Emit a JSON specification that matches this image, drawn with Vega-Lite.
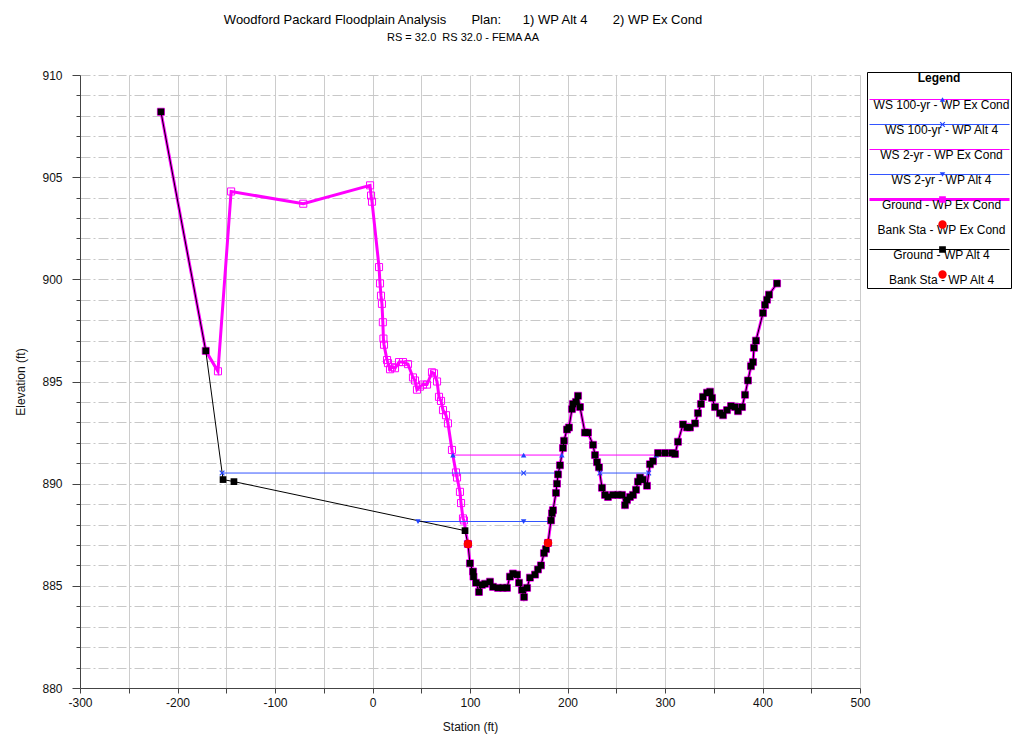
{
"$schema": "https://vega.github.io/schema/vega-lite/v6.json",
"width": 780, "height": 613,
"autosize": {"type": "none"},
"padding": {"left": 80, "top": 75, "right": 156, "bottom": 48},
"background": "white",
"config": {"font": "Liberation Sans", "view": {"stroke": null}},
"title": {"text": "Woodford Packard Floodplain Analysis\u00a0\u00a0\u00a0\u00a0\u00a0\u00a0\u00a0Plan:\u00a0\u00a0\u00a0\u00a0\u00a0\u00a01) WP Alt 4\u00a0\u00a0\u00a0\u00a0\u00a0\u00a0\u00a02) WP Ex Cond", "subtitle": "RS = 32.0\u00a0\u00a0RS 32.0 - FEMA AA", "anchor": "middle", "frame": "group", "dx": -7, "fontSize": 13, "fontWeight": "normal", "font": "Liberation Sans", "color": "#000", "subtitleFontSize": 11, "subtitleColor": "#000", "subtitleFont": "Liberation Sans", "offset": 26, "subtitlePadding": 5},
"data": {"values": [
{"s":"Ground - WP Ex Cond","x":-217,"y":908.2},{"s":"Ground - WP Ex Cond","x":-171,"y":896.5},{"s":"Ground - WP Ex Cond","x":-158.5,"y":895.5},{"s":"Ground - WP Ex Cond","x":-145,"y":904.3},{"s":"Ground - WP Ex Cond","x":-71,"y":903.7},{"s":"Ground - WP Ex Cond","x":-2.5,"y":904.6},{"s":"Ground - WP Ex Cond","x":-1.5,"y":904.1},{"s":"Ground - WP Ex Cond","x":-0.5,"y":903.8},{"s":"Ground - WP Ex Cond","x":6.7,"y":900.6},{"s":"Ground - WP Ex Cond","x":7.7,"y":899.8},{"s":"Ground - WP Ex Cond","x":8.7,"y":899.2},{"s":"Ground - WP Ex Cond","x":9.7,"y":898.8},{"s":"Ground - WP Ex Cond","x":10.6,"y":897.9},{"s":"Ground - WP Ex Cond","x":11.2,"y":897.1},{"s":"Ground - WP Ex Cond","x":11.8,"y":896.8},{"s":"Ground - WP Ex Cond","x":14.9,"y":896.05},{"s":"Ground - WP Ex Cond","x":15.9,"y":895.9},{"s":"Ground - WP Ex Cond","x":18,"y":895.6},{"s":"Ground - WP Ex Cond","x":20,"y":895.7},{"s":"Ground - WP Ex Cond","x":23.1,"y":895.65},{"s":"Ground - WP Ex Cond","x":27.2,"y":895.95},{"s":"Ground - WP Ex Cond","x":31.3,"y":895.95},{"s":"Ground - WP Ex Cond","x":36.4,"y":895.85},{"s":"Ground - WP Ex Cond","x":41.5,"y":895.2},{"s":"Ground - WP Ex Cond","x":43.6,"y":895.05},{"s":"Ground - WP Ex Cond","x":45.6,"y":894.6},{"s":"Ground - WP Ex Cond","x":48.7,"y":894.75},{"s":"Ground - WP Ex Cond","x":51.8,"y":894.85},{"s":"Ground - WP Ex Cond","x":55.9,"y":894.85},{"s":"Ground - WP Ex Cond","x":61,"y":895.45},{"s":"Ground - WP Ex Cond","x":63.1,"y":895.4},{"s":"Ground - WP Ex Cond","x":66.2,"y":895},{"s":"Ground - WP Ex Cond","x":68.2,"y":894.25},{"s":"Ground - WP Ex Cond","x":70.3,"y":894.05},{"s":"Ground - WP Ex Cond","x":72.3,"y":893.6},{"s":"Ground - WP Ex Cond","x":75.4,"y":893.35},{"s":"Ground - WP Ex Cond","x":77.4,"y":892.95},{"s":"Ground - WP Ex Cond","x":81.5,"y":891.65},{"s":"Ground - WP Ex Cond","x":85.6,"y":890.55},{"s":"Ground - WP Ex Cond","x":86.7,"y":890.3},{"s":"Ground - WP Ex Cond","x":89.7,"y":889.6},{"s":"Ground - WP Ex Cond","x":90.8,"y":889.05},{"s":"Ground - WP Ex Cond","x":92.8,"y":888.3},{"s":"Ground - WP Ex Cond","x":93.8,"y":888.2},
{"s":"Ground - WP Ex Cond","x":97.9,"y":887.05},{"s":"Ground - WP Ex Cond","x":100,"y":886.1},{"s":"Ground - WP Ex Cond","x":103.1,"y":885.7},{"s":"Ground - WP Ex Cond","x":103.6,"y":885.45},{"s":"Ground - WP Ex Cond","x":106.2,"y":885.15},{"s":"Ground - WP Ex Cond","x":109.2,"y":884.7},{"s":"Ground - WP Ex Cond","x":112.3,"y":885.05},{"s":"Ground - WP Ex Cond","x":115.4,"y":885.1},{"s":"Ground - WP Ex Cond","x":120.5,"y":885.2},{"s":"Ground - WP Ex Cond","x":123.6,"y":884.95},{"s":"Ground - WP Ex Cond","x":128.7,"y":884.9},{"s":"Ground - WP Ex Cond","x":133.8,"y":884.9},{"s":"Ground - WP Ex Cond","x":137.9,"y":884.9},{"s":"Ground - WP Ex Cond","x":141,"y":885.45},{"s":"Ground - WP Ex Cond","x":144.1,"y":885.6},{"s":"Ground - WP Ex Cond","x":148.2,"y":885.55},{"s":"Ground - WP Ex Cond","x":150.3,"y":885.15},{"s":"Ground - WP Ex Cond","x":153.3,"y":884.8},{"s":"Ground - WP Ex Cond","x":155.4,"y":884.45},{"s":"Ground - WP Ex Cond","x":158.5,"y":884.9},{"s":"Ground - WP Ex Cond","x":161.5,"y":885.4},{"s":"Ground - WP Ex Cond","x":166.7,"y":885.55},{"s":"Ground - WP Ex Cond","x":169.7,"y":885.8},{"s":"Ground - WP Ex Cond","x":172.8,"y":886},{"s":"Ground - WP Ex Cond","x":175.9,"y":886.6},{"s":"Ground - WP Ex Cond","x":177.9,"y":886.8},{"s":"Ground - WP Ex Cond","x":180,"y":887.1},{"s":"Ground - WP Ex Cond","x":183.1,"y":888.2},{"s":"Ground - WP Ex Cond","x":184.1,"y":888.55},{"s":"Ground - WP Ex Cond","x":185.1,"y":888.7},{"s":"Ground - WP Ex Cond","x":188.2,"y":889.55},{"s":"Ground - WP Ex Cond","x":189.2,"y":890},{"s":"Ground - WP Ex Cond","x":190.3,"y":890.45},{"s":"Ground - WP Ex Cond","x":192.3,"y":890.9},{"s":"Ground - WP Ex Cond","x":195.4,"y":891.75},{"s":"Ground - WP Ex Cond","x":196.4,"y":892.1},{"s":"Ground - WP Ex Cond","x":199.5,"y":892.65},{"s":"Ground - WP Ex Cond","x":201.5,"y":892.75},{"s":"Ground - WP Ex Cond","x":204.6,"y":893.65},{"s":"Ground - WP Ex Cond","x":205.6,"y":893.9},{"s":"Ground - WP Ex Cond","x":208.7,"y":894},{"s":"Ground - WP Ex Cond","x":210.8,"y":894.3},{"s":"Ground - WP Ex Cond","x":212.8,"y":893.75},{"s":"Ground - WP Ex Cond","x":217.9,"y":892.5},{"s":"Ground - WP Ex Cond","x":221,"y":892.5},{"s":"Ground - WP Ex Cond","x":226.2,"y":891.9},{"s":"Ground - WP Ex Cond","x":228.2,"y":891.4},{"s":"Ground - WP Ex Cond","x":230.3,"y":891.05},{"s":"Ground - WP Ex Cond","x":232.3,"y":890.8},{"s":"Ground - WP Ex Cond","x":235.4,"y":889.8},{"s":"Ground - WP Ex Cond","x":238.5,"y":889.45},{"s":"Ground - WP Ex Cond","x":241.5,"y":889.35},{"s":"Ground - WP Ex Cond","x":246.7,"y":889.45},{"s":"Ground - WP Ex Cond","x":251.8,"y":889.45},{"s":"Ground - WP Ex Cond","x":255.9,"y":889.45},{"s":"Ground - WP Ex Cond","x":259,"y":888.95},{"s":"Ground - WP Ex Cond","x":261,"y":889.2},{"s":"Ground - WP Ex Cond","x":264.1,"y":889.35},{"s":"Ground - WP Ex Cond","x":267.2,"y":889.45},{"s":"Ground - WP Ex Cond","x":270.3,"y":889.7},{"s":"Ground - WP Ex Cond","x":272.3,"y":890.1},{"s":"Ground - WP Ex Cond","x":274.4,"y":890.3},{"s":"Ground - WP Ex Cond","x":277.4,"y":890.2},{"s":"Ground - WP Ex Cond","x":281.5,"y":889.9},{"s":"Ground - WP Ex Cond","x":284.6,"y":890.95},{"s":"Ground - WP Ex Cond","x":287.7,"y":891.1},{"s":"Ground - WP Ex Cond","x":292.8,"y":891.5},{"s":"Ground - WP Ex Cond","x":300,"y":891.5},{"s":"Ground - WP Ex Cond","x":307.2,"y":891.5},{"s":"Ground - WP Ex Cond","x":310.3,"y":891.45},{"s":"Ground - WP Ex Cond","x":313.3,"y":892.05},{"s":"Ground - WP Ex Cond","x":318.5,"y":892.9},{"s":"Ground - WP Ex Cond","x":322.6,"y":892.75},{"s":"Ground - WP Ex Cond","x":325.6,"y":892.75},{"s":"Ground - WP Ex Cond","x":330.8,"y":892.95},{"s":"Ground - WP Ex Cond","x":333.8,"y":893.45},{"s":"Ground - WP Ex Cond","x":336.9,"y":893.9},{"s":"Ground - WP Ex Cond","x":339,"y":894.25},{"s":"Ground - WP Ex Cond","x":343.1,"y":894.45},{"s":"Ground - WP Ex Cond","x":346.2,"y":894.5},{"s":"Ground - WP Ex Cond","x":348.2,"y":894.2},{"s":"Ground - WP Ex Cond","x":351.3,"y":893.75},{"s":"Ground - WP Ex Cond","x":356.4,"y":893.45},{"s":"Ground - WP Ex Cond","x":359.5,"y":893.35},{"s":"Ground - WP Ex Cond","x":363.6,"y":893.6},{"s":"Ground - WP Ex Cond","x":367.7,"y":893.8},{"s":"Ground - WP Ex Cond","x":371.8,"y":893.75},{"s":"Ground - WP Ex Cond","x":374.9,"y":893.55},{"s":"Ground - WP Ex Cond","x":379,"y":893.75},{"s":"Ground - WP Ex Cond","x":382.1,"y":894.35},{"s":"Ground - WP Ex Cond","x":385.1,"y":895.05},{"s":"Ground - WP Ex Cond","x":388.2,"y":895.75},{"s":"Ground - WP Ex Cond","x":390.3,"y":895.95},{"s":"Ground - WP Ex Cond","x":391.3,"y":896.65},{"s":"Ground - WP Ex Cond","x":393.3,"y":897},{"s":"Ground - WP Ex Cond","x":400.5,"y":898.35},{"s":"Ground - WP Ex Cond","x":402.6,"y":898.75},{"s":"Ground - WP Ex Cond","x":404.6,"y":899},{"s":"Ground - WP Ex Cond","x":406.7,"y":899.25},{"s":"Ground - WP Ex Cond","x":414.9,"y":899.8},
{"s":"WS 2-yr - WP Ex Cond","x":93.6,"y":888.148,"g":1,"m":0},{"s":"WS 2-yr - WP Ex Cond","x":183,"y":888.148,"g":1,"m":0},
{"s":"WS 100-yr - WP Ex Cond","x":82.5,"y":891.4,"g":1,"m":1},{"s":"WS 100-yr - WP Ex Cond","x":155,"y":891.4,"g":1,"m":1},{"s":"WS 100-yr - WP Ex Cond","x":194.2,"y":891.4,"g":1,"m":1},{"s":"WS 100-yr - WP Ex Cond","x":228.2,"y":891.4,"g":2,"m":1},{"s":"WS 100-yr - WP Ex Cond","x":291,"y":891.4,"g":2,"m":1},
{"s":"WS 100-yr - WP Alt 4","x":-154.3,"y":890.52,"g":1,"m":1},{"s":"WS 100-yr - WP Alt 4","x":155,"y":890.52,"g":1,"m":1},{"s":"WS 100-yr - WP Alt 4","x":190.4,"y":890.52,"g":1,"m":1},{"s":"WS 100-yr - WP Alt 4","x":233.2,"y":890.52,"g":2,"m":1},{"s":"WS 100-yr - WP Alt 4","x":283.3,"y":890.52,"g":2,"m":1},
{"s":"WS 2-yr - WP Alt 4","x":46.7,"y":888.148,"g":1,"m":1},{"s":"WS 2-yr - WP Alt 4","x":155,"y":888.148,"g":1,"m":1},{"s":"WS 2-yr - WP Alt 4","x":183,"y":888.148,"g":1,"m":1},
{"s":"Ground - WP Alt 4","x":-217,"y":908.2},{"s":"Ground - WP Alt 4","x":-171,"y":896.5},{"s":"Ground - WP Alt 4","x":-153.3,"y":890.2},{"s":"Ground - WP Alt 4","x":-142.1,"y":890.1},{"s":"Ground - WP Alt 4","x":94.9,"y":887.7},
{"s":"Ground - WP Alt 4","x":97.9,"y":887.05},{"s":"Ground - WP Alt 4","x":100,"y":886.1},{"s":"Ground - WP Alt 4","x":103.1,"y":885.7},{"s":"Ground - WP Alt 4","x":103.6,"y":885.45},{"s":"Ground - WP Alt 4","x":106.2,"y":885.15},{"s":"Ground - WP Alt 4","x":109.2,"y":884.7},{"s":"Ground - WP Alt 4","x":112.3,"y":885.05},{"s":"Ground - WP Alt 4","x":115.4,"y":885.1},{"s":"Ground - WP Alt 4","x":120.5,"y":885.2},{"s":"Ground - WP Alt 4","x":123.6,"y":884.95},{"s":"Ground - WP Alt 4","x":128.7,"y":884.9},{"s":"Ground - WP Alt 4","x":133.8,"y":884.9},{"s":"Ground - WP Alt 4","x":137.9,"y":884.9},{"s":"Ground - WP Alt 4","x":141,"y":885.45},{"s":"Ground - WP Alt 4","x":144.1,"y":885.6},{"s":"Ground - WP Alt 4","x":148.2,"y":885.55},{"s":"Ground - WP Alt 4","x":150.3,"y":885.15},{"s":"Ground - WP Alt 4","x":153.3,"y":884.8},{"s":"Ground - WP Alt 4","x":155.4,"y":884.45},{"s":"Ground - WP Alt 4","x":158.5,"y":884.9},{"s":"Ground - WP Alt 4","x":161.5,"y":885.4},{"s":"Ground - WP Alt 4","x":166.7,"y":885.55},{"s":"Ground - WP Alt 4","x":169.7,"y":885.8},{"s":"Ground - WP Alt 4","x":172.8,"y":886},{"s":"Ground - WP Alt 4","x":175.9,"y":886.6},{"s":"Ground - WP Alt 4","x":177.9,"y":886.8},{"s":"Ground - WP Alt 4","x":180,"y":887.1},{"s":"Ground - WP Alt 4","x":183.1,"y":888.2},{"s":"Ground - WP Alt 4","x":184.1,"y":888.55},{"s":"Ground - WP Alt 4","x":185.1,"y":888.7},{"s":"Ground - WP Alt 4","x":188.2,"y":889.55},{"s":"Ground - WP Alt 4","x":189.2,"y":890},{"s":"Ground - WP Alt 4","x":190.3,"y":890.45},{"s":"Ground - WP Alt 4","x":192.3,"y":890.9},{"s":"Ground - WP Alt 4","x":195.4,"y":891.75},{"s":"Ground - WP Alt 4","x":196.4,"y":892.1},{"s":"Ground - WP Alt 4","x":199.5,"y":892.65},{"s":"Ground - WP Alt 4","x":201.5,"y":892.75},{"s":"Ground - WP Alt 4","x":204.6,"y":893.65},{"s":"Ground - WP Alt 4","x":205.6,"y":893.9},{"s":"Ground - WP Alt 4","x":208.7,"y":894},{"s":"Ground - WP Alt 4","x":210.8,"y":894.3},{"s":"Ground - WP Alt 4","x":212.8,"y":893.75},{"s":"Ground - WP Alt 4","x":217.9,"y":892.5},{"s":"Ground - WP Alt 4","x":221,"y":892.5},{"s":"Ground - WP Alt 4","x":226.2,"y":891.9},{"s":"Ground - WP Alt 4","x":228.2,"y":891.4},{"s":"Ground - WP Alt 4","x":230.3,"y":891.05},{"s":"Ground - WP Alt 4","x":232.3,"y":890.8},{"s":"Ground - WP Alt 4","x":235.4,"y":889.8},{"s":"Ground - WP Alt 4","x":238.5,"y":889.45},{"s":"Ground - WP Alt 4","x":241.5,"y":889.35},{"s":"Ground - WP Alt 4","x":246.7,"y":889.45},{"s":"Ground - WP Alt 4","x":251.8,"y":889.45},{"s":"Ground - WP Alt 4","x":255.9,"y":889.45},{"s":"Ground - WP Alt 4","x":259,"y":888.95},{"s":"Ground - WP Alt 4","x":261,"y":889.2},{"s":"Ground - WP Alt 4","x":264.1,"y":889.35},{"s":"Ground - WP Alt 4","x":267.2,"y":889.45},{"s":"Ground - WP Alt 4","x":270.3,"y":889.7},{"s":"Ground - WP Alt 4","x":272.3,"y":890.1},{"s":"Ground - WP Alt 4","x":274.4,"y":890.3},{"s":"Ground - WP Alt 4","x":277.4,"y":890.2},{"s":"Ground - WP Alt 4","x":281.5,"y":889.9},{"s":"Ground - WP Alt 4","x":284.6,"y":890.95},{"s":"Ground - WP Alt 4","x":287.7,"y":891.1},{"s":"Ground - WP Alt 4","x":292.8,"y":891.5},{"s":"Ground - WP Alt 4","x":300,"y":891.5},{"s":"Ground - WP Alt 4","x":307.2,"y":891.5},{"s":"Ground - WP Alt 4","x":310.3,"y":891.45},{"s":"Ground - WP Alt 4","x":313.3,"y":892.05},{"s":"Ground - WP Alt 4","x":318.5,"y":892.9},{"s":"Ground - WP Alt 4","x":322.6,"y":892.75},{"s":"Ground - WP Alt 4","x":325.6,"y":892.75},{"s":"Ground - WP Alt 4","x":330.8,"y":892.95},{"s":"Ground - WP Alt 4","x":333.8,"y":893.45},{"s":"Ground - WP Alt 4","x":336.9,"y":893.9},{"s":"Ground - WP Alt 4","x":339,"y":894.25},{"s":"Ground - WP Alt 4","x":343.1,"y":894.45},{"s":"Ground - WP Alt 4","x":346.2,"y":894.5},{"s":"Ground - WP Alt 4","x":348.2,"y":894.2},{"s":"Ground - WP Alt 4","x":351.3,"y":893.75},{"s":"Ground - WP Alt 4","x":356.4,"y":893.45},{"s":"Ground - WP Alt 4","x":359.5,"y":893.35},{"s":"Ground - WP Alt 4","x":363.6,"y":893.6},{"s":"Ground - WP Alt 4","x":367.7,"y":893.8},{"s":"Ground - WP Alt 4","x":371.8,"y":893.75},{"s":"Ground - WP Alt 4","x":374.9,"y":893.55},{"s":"Ground - WP Alt 4","x":379,"y":893.75},{"s":"Ground - WP Alt 4","x":382.1,"y":894.35},{"s":"Ground - WP Alt 4","x":385.1,"y":895.05},{"s":"Ground - WP Alt 4","x":388.2,"y":895.75},{"s":"Ground - WP Alt 4","x":390.3,"y":895.95},{"s":"Ground - WP Alt 4","x":391.3,"y":896.65},{"s":"Ground - WP Alt 4","x":393.3,"y":897},{"s":"Ground - WP Alt 4","x":400.5,"y":898.35},{"s":"Ground - WP Alt 4","x":402.6,"y":898.75},{"s":"Ground - WP Alt 4","x":404.6,"y":899},{"s":"Ground - WP Alt 4","x":406.7,"y":899.25},{"s":"Ground - WP Alt 4","x":414.9,"y":899.8},
{"s":"Bank Sta - WP Ex Cond","x":97.9,"y":887.05},{"s":"Bank Sta - WP Ex Cond","x":180,"y":887.1},
{"s":"Bank Sta - WP Alt 4","x":97.9,"y":887.05},{"s":"Bank Sta - WP Alt 4","x":180,"y":887.1}
]},
"encoding": {
 "x": {"field": "x", "type": "quantitative", "scale": {"domain": [-300, 500], "nice": false, "zero": false},
   "axis": {"title": "Station (ft)", "values": [-300,-250,-200,-150,-100,-50,0,50,100,150,200,250,300,350,400,450,500], "labelExpr": "datum.value % 100 === 0 ? '' + datum.value : ''", "labelFlush": false, "labelOverlap": false, "grid": true, "gridColor": "#cccccc", "gridWidth": 1, "domainColor": "#444444", "tickColor": "#444444", "tickSize": 5, "labelPadding": 4, "labelFontSize": 12, "labelColor": "#111111", "labelFont": "Liberation Sans", "titleFont": "Liberation Sans", "titleFontSize": 12, "titleFontWeight": "normal", "titleColor": "#111111", "titlePadding": 13}},
 "y": {"field": "y", "type": "quantitative", "scale": {"domain": [880, 910], "nice": false, "zero": false},
   "axis": {"title": "Elevation (ft)", "values": [880,881,882,883,884,885,886,887,888,889,890,891,892,893,894,895,896,897,898,899,900,901,902,903,904,905,906,907,908,909,910], "labelExpr": "datum.value % 5 === 0 ? '' + datum.value : ''", "labelOverlap": false, "labelFlush": false, "grid": true, "gridColor": "#c8c8c8", "gridDash": [10, 3, 2, 3], "gridWidth": 1, "domainColor": "#444444", "tickColor": "#444444", "tickSize": {"condition": {"test": "datum.value % 5 === 0", "value": 8}, "value": 4}, "labelPadding": 10, "labelFontSize": 12, "labelColor": "#111111", "labelFont": "Liberation Sans", "titleFont": "Liberation Sans", "titleFontSize": 12, "titleFontWeight": "normal", "titleColor": "#111111", "titlePadding": 14}}
},
"layer": [
 {"transform": [{"filter": "datum.s === 'Ground - WP Ex Cond'"}],
  "mark": {"type": "line"},
  "encoding": {
   "stroke": {"field": "s", "type": "nominal", "scale": {"domain": ["WS 100-yr - WP Ex Cond","WS 100-yr - WP Alt 4","WS 2-yr - WP Ex Cond","WS 2-yr - WP Alt 4","Ground - WP Ex Cond","Bank Sta - WP Ex Cond","Ground - WP Alt 4","Bank Sta - WP Alt 4"], "range": ["#ff00ff","#3355ff","#ff00ff","#3355ff","#ff00ff","transparent","#000000","transparent"]},
     "legend": {"orient": "none", "legendX": 787, "legendY": -3, "direction": "vertical", "title": "Legend", "titleFont": "Liberation Sans", "titleFontSize": 12, "titleFontWeight": "bold", "titleAnchor": "middle", "titleColor": "#000000", "titlePadding": 2, "padding": 1, "clipHeight": 25, "rowPadding": 0, "symbolType": "stroke", "symbolSize": 21025, "labelAlign": "center", "labelBaseline": "top", "labelOffset": -74.5, "labelFont": "Liberation Sans", "labelFontSize": 12, "labelColor": "#000000", "labelLimit": 300, "strokeColor": "#000000", "zindex": 0}},
   "strokeWidth": {"field": "s", "type": "nominal", "scale": {"type": "ordinal", "domain": ["WS 100-yr - WP Ex Cond","WS 100-yr - WP Alt 4","WS 2-yr - WP Ex Cond","WS 2-yr - WP Alt 4","Ground - WP Ex Cond","Bank Sta - WP Ex Cond","Ground - WP Alt 4","Bank Sta - WP Alt 4"], "range": [1,1,1,1,3,0,1,0]},
     "legend": {"orient": "none", "legendX": 787, "legendY": -3, "direction": "vertical", "title": "Legend", "titleFont": "Liberation Sans", "titleFontSize": 12, "titleFontWeight": "bold", "titleAnchor": "middle", "titleColor": "#000000", "titlePadding": 2, "padding": 1, "clipHeight": 25, "rowPadding": 0, "symbolType": "stroke", "symbolSize": 21025, "labelAlign": "center", "labelBaseline": "top", "labelOffset": -74.5, "labelFont": "Liberation Sans", "labelFontSize": 12, "labelColor": "#000000", "labelLimit": 300, "strokeColor": "#000000", "zindex": 0}}
  }},
 {"transform": [{"filter": "datum.s === 'Ground - WP Ex Cond'"}],
  "mark": {"type": "point", "shape": "square", "filled": false, "stroke": "#ff00ff", "strokeWidth": 1, "size": 50, "opacity": 1}},
 {"transform": [{"filter": "indexof(datum.s, 'Bank') < 0 && datum.s !== 'Ground - WP Ex Cond'"}],
  "mark": {"type": "line"},
  "encoding": {
   "detail": {"field": "g", "type": "nominal"},
   "stroke": {"field": "s", "type": "nominal", "scale": {"domain": ["WS 100-yr - WP Ex Cond","WS 100-yr - WP Alt 4","WS 2-yr - WP Ex Cond","WS 2-yr - WP Alt 4","Ground - WP Ex Cond","Bank Sta - WP Ex Cond","Ground - WP Alt 4","Bank Sta - WP Alt 4"], "range": ["#ff00ff","#3355ff","#ff00ff","#3355ff","#ff00ff","transparent","#000000","transparent"]},
     "legend": {"orient": "none", "legendX": 787, "legendY": -3, "direction": "vertical", "title": "Legend", "titleFont": "Liberation Sans", "titleFontSize": 12, "titleFontWeight": "bold", "titleAnchor": "middle", "titleColor": "#000000", "titlePadding": 2, "padding": 1, "clipHeight": 25, "rowPadding": 0, "symbolType": "stroke", "symbolSize": 21025, "labelAlign": "center", "labelBaseline": "top", "labelOffset": -74.5, "labelFont": "Liberation Sans", "labelFontSize": 12, "labelColor": "#000000", "labelLimit": 300, "strokeColor": "#000000", "zindex": 0}},
   "strokeWidth": {"field": "s", "type": "nominal", "scale": {"type": "ordinal", "domain": ["WS 100-yr - WP Ex Cond","WS 100-yr - WP Alt 4","WS 2-yr - WP Ex Cond","WS 2-yr - WP Alt 4","Ground - WP Ex Cond","Bank Sta - WP Ex Cond","Ground - WP Alt 4","Bank Sta - WP Alt 4"], "range": [1,1,1,1,3,0,1,0]},
     "legend": {"orient": "none", "legendX": 787, "legendY": -3, "direction": "vertical", "title": "Legend", "titleFont": "Liberation Sans", "titleFontSize": 12, "titleFontWeight": "bold", "titleAnchor": "middle", "titleColor": "#000000", "titlePadding": 2, "padding": 1, "clipHeight": 25, "rowPadding": 0, "symbolType": "stroke", "symbolSize": 21025, "labelAlign": "center", "labelBaseline": "top", "labelOffset": -74.5, "labelFont": "Liberation Sans", "labelFontSize": 12, "labelColor": "#000000", "labelLimit": 300, "strokeColor": "#000000", "zindex": 0}}
  }},
 {"transform": [{"filter": "datum.m !== 0 && datum.s !== 'Ground - WP Ex Cond'"}],
  "mark": {"type": "point", "filled": true, "opacity": 1, "strokeWidth": 0},
  "encoding": {
   "fill": {"field": "s", "type": "nominal", "scale": {"domain": ["WS 100-yr - WP Ex Cond","WS 100-yr - WP Alt 4","WS 2-yr - WP Ex Cond","WS 2-yr - WP Alt 4","Ground - WP Ex Cond","Bank Sta - WP Ex Cond","Ground - WP Alt 4","Bank Sta - WP Alt 4","_"], "range": ["#2244ff","#2244ff","transparent","#2244ff","#ff00ff","#ff0000","#000000","#ff0000","transparent"]},
     "legend": {"orient": "none", "legendX": 787, "legendY": -3, "direction": "vertical", "values": ["WS 100-yr - WP Ex Cond","WS 100-yr - WP Alt 4","WS 2-yr - WP Ex Cond","WS 2-yr - WP Alt 4","Ground - WP Ex Cond","Bank Sta - WP Ex Cond","Ground - WP Alt 4","Bank Sta - WP Alt 4"], "title": "Legend", "titleFont": "Liberation Sans", "titleFontSize": 12, "titleFontWeight": "bold", "titleOpacity": 0, "titlePadding": 2, "padding": 1, "clipHeight": 25, "rowPadding": 0, "symbolOffset": 68.5, "symbolStrokeWidth": 0, "labelOpacity": 0, "labelFont": "Liberation Sans", "labelFontSize": 12, "zindex": 1}},
   "shape": {"field": "s", "type": "nominal", "scale": {"domain": ["WS 100-yr - WP Ex Cond","WS 100-yr - WP Alt 4","WS 2-yr - WP Ex Cond","WS 2-yr - WP Alt 4","Ground - WP Ex Cond","Bank Sta - WP Ex Cond","Ground - WP Alt 4","Bank Sta - WP Alt 4","_"], "range": ["triangle-up","M-1,-0.7L-0.7,-1L0,-0.3L0.7,-1L1,-0.7L0.3,0L1,0.7L0.7,1L0,0.3L-0.7,1L-1,0.7L-0.3,0Z","circle","triangle-down","square","circle","square","circle","circle"]},
     "legend": {"orient": "none", "legendX": 787, "legendY": -3, "direction": "vertical", "values": ["WS 100-yr - WP Ex Cond","WS 100-yr - WP Alt 4","WS 2-yr - WP Ex Cond","WS 2-yr - WP Alt 4","Ground - WP Ex Cond","Bank Sta - WP Ex Cond","Ground - WP Alt 4","Bank Sta - WP Alt 4"], "title": "Legend", "titleFont": "Liberation Sans", "titleFontSize": 12, "titleFontWeight": "bold", "titleOpacity": 0, "titlePadding": 2, "padding": 1, "clipHeight": 25, "rowPadding": 0, "symbolOffset": 68.5, "symbolStrokeWidth": 0, "labelOpacity": 0, "labelFont": "Liberation Sans", "labelFontSize": 12, "zindex": 1}},
   "size": {"field": "s", "type": "nominal", "scale": {"type": "ordinal", "domain": ["WS 100-yr - WP Ex Cond","WS 100-yr - WP Alt 4","WS 2-yr - WP Ex Cond","WS 2-yr - WP Alt 4","Ground - WP Ex Cond","Bank Sta - WP Ex Cond","Ground - WP Alt 4","Bank Sta - WP Alt 4","_"], "range": [30,30,10,30,45,70,45,70,10]},
     "legend": {"orient": "none", "legendX": 787, "legendY": -3, "direction": "vertical", "values": ["WS 100-yr - WP Ex Cond","WS 100-yr - WP Alt 4","WS 2-yr - WP Ex Cond","WS 2-yr - WP Alt 4","Ground - WP Ex Cond","Bank Sta - WP Ex Cond","Ground - WP Alt 4","Bank Sta - WP Alt 4"], "title": "Legend", "titleFont": "Liberation Sans", "titleFontSize": 12, "titleFontWeight": "bold", "titleOpacity": 0, "titlePadding": 2, "padding": 1, "clipHeight": 25, "rowPadding": 0, "symbolOffset": 68.5, "symbolStrokeWidth": 0, "labelOpacity": 0, "labelFont": "Liberation Sans", "labelFontSize": 12, "zindex": 1}}
  }}
]
}
